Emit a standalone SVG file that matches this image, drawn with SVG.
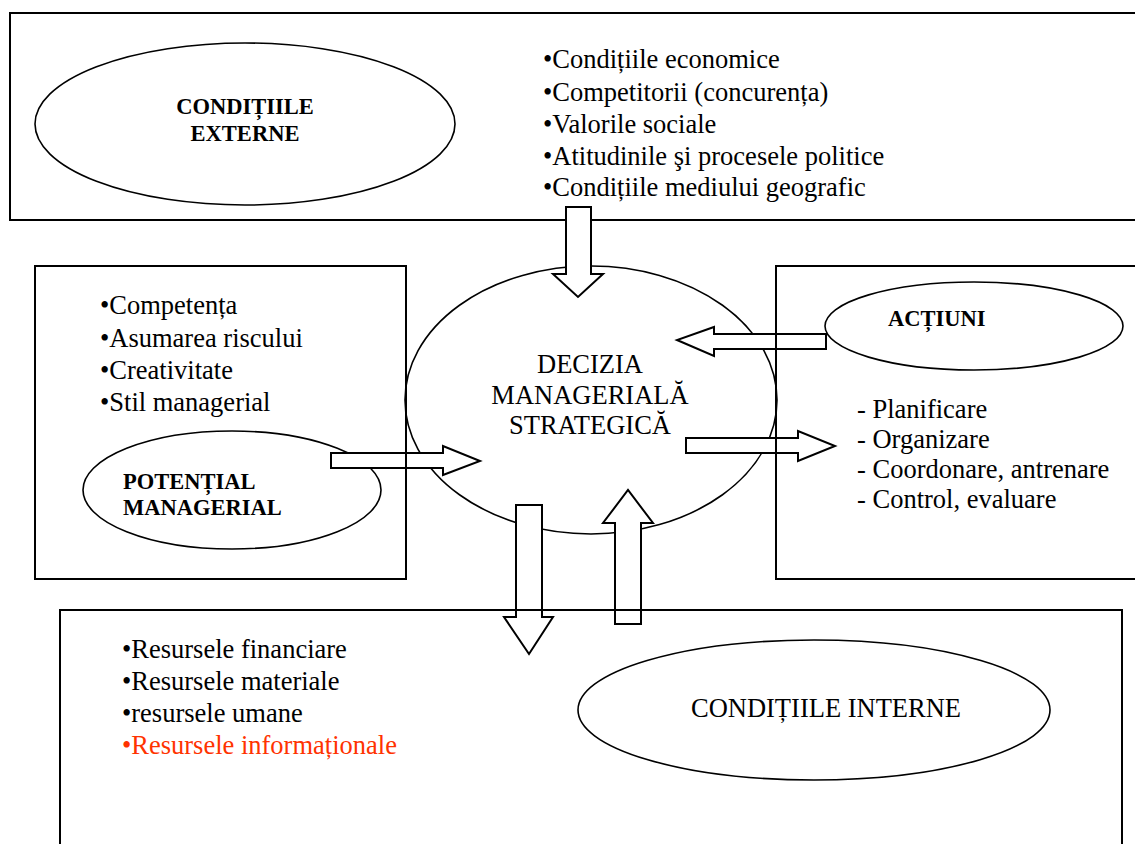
<svg xmlns="http://www.w3.org/2000/svg" width="1135" height="844" viewBox="0 0 1135 844">
<style>
.box{fill:none;stroke:#000;stroke-width:2}
.ell{fill:#fff;stroke:#000;stroke-width:1.6}
.arr{fill:#fff;stroke:#000;stroke-width:2;stroke-linejoin:miter}
.t{font-family:"Liberation Serif","Times New Roman",serif;font-size:26.5px;fill:#000}
.b{font-family:"Liberation Serif","Times New Roman",serif;font-size:22.5px;font-weight:bold;fill:#000}
.c{font-family:"Liberation Serif","Times New Roman",serif;font-size:26.5px;fill:#000;text-anchor:middle}
.red{fill:#ff3300}
</style>
<rect width="1135" height="844" fill="#fff"/>
<g id="conditii-externe">
<rect class="box" x="10" y="13" width="1140" height="207"/>
<ellipse class="ell" cx="245" cy="124" rx="210" ry="81"/>
<text class="b" x="245" y="114" text-anchor="middle">CONDIȚIILE</text>
<text class="b" x="245" y="141" text-anchor="middle">EXTERNE</text>
<text class="t" x="543" y="68">•Condițiile economice</text>
<text class="t" x="543" y="101">•Competitorii (concurența)</text>
<text class="t" x="543" y="133">•Valorile sociale</text>
<text class="t" x="543" y="165">•Atitudinile şi procesele politice</text>
<text class="t" x="543" y="196">•Condițiile mediului geografic</text>
</g>
<g id="decizia">
<ellipse class="ell" cx="591" cy="400" rx="186" ry="134"/>
<text class="c" x="590" y="373">DECIZIA</text>
<text class="c" x="590" y="404">MANAGERIALĂ</text>
<text class="c" x="590" y="434">STRATEGICĂ</text>
</g>
<g id="potential-ellipse">
<ellipse class="ell" cx="232" cy="490" rx="149" ry="59"/>
<text class="b" x="123" y="489">POTENȚIAL</text>
<text class="b" x="123" y="515">MANAGERIAL</text>
</g>
<g id="actiuni-ellipse">
<ellipse class="ell" cx="974" cy="326" rx="149" ry="44"/>
<text class="b" x="888" y="326">ACȚIUNI</text>
</g>
<g id="conditii-interne-ellipse">
<ellipse class="ell" cx="814" cy="710" rx="236" ry="70"/>
<text class="t" x="826" y="717" text-anchor="middle">CONDIȚIILE INTERNE</text>
</g>
<g id="connectors">
<polygon class="arr" points="566,207 591,207 591,274 603,274 578,297 553,274 566,274"/>
<polygon class="arr" points="826,334 714,334 714,327 677,340 714,356 714,349 826,349"/>
<polygon class="arr" points="686,438 798,438 798,431 835,446 798,461 798,453 686,453"/>
<polygon class="arr" points="331,453 443,453 443,446 480,461 443,475 443,468 331,468"/>
<polygon class="arr" points="516,505 542,505 542,617 553,617 529,654 504,617 516,617"/>
<polygon class="arr" points="615,624 641,624 641,523 653,523 628,490 603,523 615,523"/>
</g>
<g id="potential-managerial">
<rect class="box" x="35" y="266" width="371" height="313"/>
<text class="t" x="100" y="314">•Competența</text>
<text class="t" x="100" y="347">•Asumarea riscului</text>
<text class="t" x="100" y="379">•Creativitate</text>
<text class="t" x="100" y="411">•Stil managerial</text>
</g>
<g id="actiuni">
<rect class="box" x="776" y="266" width="380" height="313"/>
<text class="t" x="857" y="418">- Planificare</text>
<text class="t" x="857" y="448">- Organizare</text>
<text class="t" x="857" y="478">- Coordonare, antrenare</text>
<text class="t" x="857" y="508">- Control, evaluare</text>
</g>
<g id="conditii-interne">
<rect class="box" x="60" y="610" width="1062" height="250"/>
<text class="t" x="122" y="658">•Resursele financiare</text>
<text class="t" x="122" y="690">•Resursele materiale</text>
<text class="t" x="122" y="722">•resursele umane</text>
<text class="t red" x="122" y="754">•Resursele informaționale</text>
</g>
</svg>
